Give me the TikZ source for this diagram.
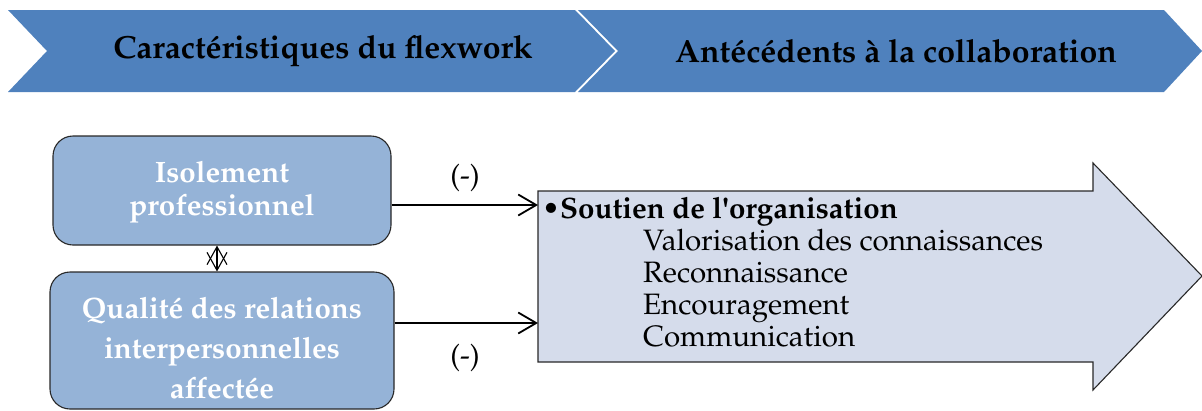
\documentclass[tikz,border=0pt]{standalone}
\usepackage[T1]{fontenc}
\usepackage{mathpazo}
\usetikzlibrary{arrows.meta,calc}
\definecolor{chevblue}{RGB}{79,129,189}
\definecolor{boxblue}{RGB}{149,179,215}
\definecolor{arrowfill}{RGB}{213,220,235}
\definecolor{edgegray}{RGB}{40,40,40}
\begin{document}
\begin{tikzpicture}[x=1pt,y=-1pt,
  chevron/.style={fill=chevblue},
  headtext/.style={font=\fontsize{32}{38}\selectfont\bfseries, text=black, inner sep=0pt},
  factorbox/.style={draw=edgegray, line width=1.1pt, fill=boxblue, rounded corners=20pt, inner sep=0pt},
  boxtext/.style={text=white, align=center, inner sep=0pt},
  link/.style={line width=1.8pt, -{Straight Barb[length=18pt,width=21pt,line width=1.8pt]}},
  mutual/.style={line width=1.1pt, {Straight Barb[length=18pt,width=20pt,line width=1.1pt]}-{Straight Barb[length=18pt,width=20pt,line width=1.1pt]}},
  sign/.style={font=\fontsize{29.5}{34}\selectfont, inner sep=0pt},
  bigarrow/.style={draw=edgegray, line width=1.1pt, fill=arrowfill, line join=miter}
]
\path[use as bounding box] (0,0) rectangle (1202,410);

% header chevrons
\fill[chevron] (578,10) -- (1164,10) -- (1202,51) -- (1164,92) -- (578,92) -- (618,51) -- cycle;
\fill[chevron] (8,10) -- (575,10) -- (615,51) -- (575,92) -- (8,92) -- (47,51) -- cycle;
\node[headtext] (flex) at (323,51) {Caract\'eristiques du flexwork};
\node[headtext] (ante) at (896,51) {Ant\'ec\'edents \`a la collaboration};

% flexwork characteristics
\node[factorbox, minimum width=338pt, minimum height=109pt] (iso) at (222,190.5) {};
\node[factorbox, minimum width=344pt, minimum height=137pt] (rel) at (222,340.5) {};
\node[boxtext, font=\fontsize{29.5}{33}\selectfont\bfseries] (isotext) at ($(iso.center)+(0,2)$) {Isolement\\professionnel};
\node[boxtext, font=\fontsize{29.5}{40}\selectfont\bfseries] (reltext) at ($(rel.center)+(0,8)$) {Qualit\'e des relations\\interpersonnelles\\affect\'ee};

\draw[mutual] ([xshift=-5pt]iso.south) -- ([xshift=-5pt]rel.north);

% big arrow with the antecedent
\draw[bigarrow] (538,191) -- (1093,191) -- (1093,163) -- (1202,276) -- (1093,390) -- (1093,362) -- (538,362) -- cycle;
\coordinate (in1) at (538,205);
\coordinate (in2) at (538,323);
% base of a multi-line node is the baseline of its last line
\node[anchor=base west, inner sep=0pt, align=left, font=\fontsize{29.5}{32}\selectfont] (items) at (542,346)
  {\textbullet\textbf{Soutien de l\textquotesingle organisation}\\
   \hspace*{101pt}Valorisation des connaissances\\
   \hspace*{101pt}Reconnaissance\\
   \hspace*{101pt}Encouragement\\
   \hspace*{101pt}Communication};

% links
\draw[link] (iso.east |- in1) -- (in1);
\draw[link] (rel.east |- in2) -- (in2);
\node[sign] (s1) at (465,178) {(-)};
\node[sign] (s2) at (465,358) {(-)};
\end{tikzpicture}
\end{document}
